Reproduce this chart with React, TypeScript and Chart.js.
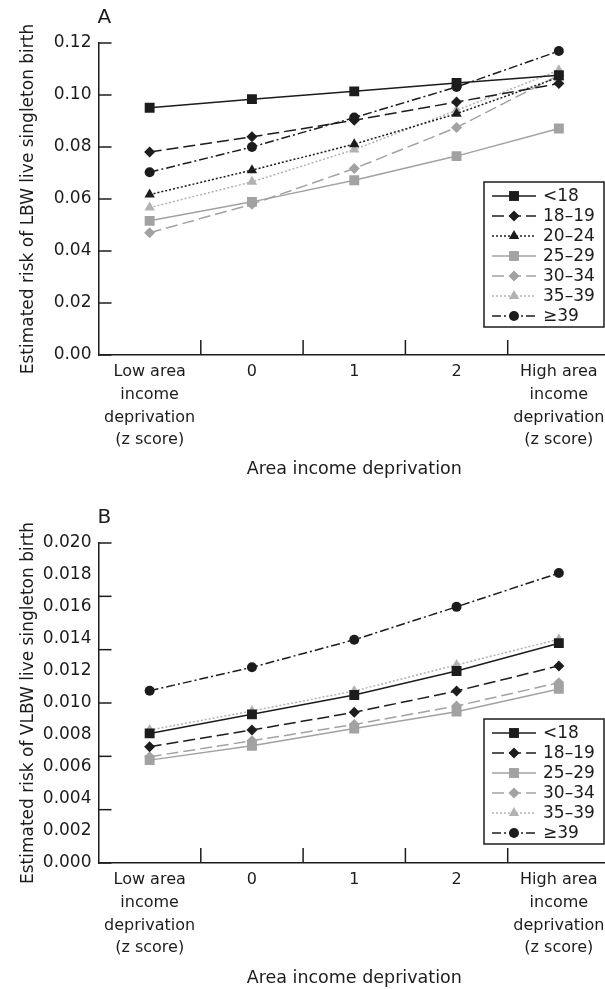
import React, { useEffect, useRef } from 'react';
import { Chart, registerables } from 'chart.js';
import { drawPoint } from 'chart.js/helpers';

Chart.register(...registerables);

// ---------- data ----------
const categories: string[][] = [
  ['Low area', 'income', 'deprivation', '(z score)'],
  ['0'],
  ['1'],
  ['2'],
  ['High area', 'income', 'deprivation', '(z score)'],
];

const ageLabels = ['<18', '18–19', '20–24', '25–29', '30–34', '35–39', '≥39'];

// Panel A: estimated risk of LBW live singleton birth
const lbwUnder18 = [0.0951, 0.0984, 0.1014, 0.1046, 0.1076];
const lbw18to19 = [0.0781, 0.0839, 0.0903, 0.0973, 0.1044];
const lbw20to24 = [0.0617, 0.0711, 0.0811, 0.0928, 0.1068];
const lbw25to29 = [0.0516, 0.0589, 0.0672, 0.0765, 0.0871];
const lbw30to34 = [0.047, 0.058, 0.0717, 0.0875, 0.1076];
const lbw35to39 = [0.0567, 0.0666, 0.079, 0.0941, 0.1095];
const lbwOver39 = [0.0703, 0.08, 0.0913, 0.1031, 0.1169];

// Panel B: estimated risk of VLBW live singleton birth
const vlbwUnder18 = [0.0081, 0.00929, 0.0105, 0.012, 0.01374];
const vlbw18to19 = [0.00727, 0.00831, 0.00942, 0.01075, 0.01232];
const vlbw25to29 = [0.00643, 0.00733, 0.00841, 0.00946, 0.01088];
const vlbw30to34 = [0.00664, 0.00764, 0.00866, 0.00981, 0.01127];
const vlbw35to39 = [0.00831, 0.0095, 0.01075, 0.01238, 0.01399];
const vlbwOver39 = [0.01077, 0.01223, 0.01395, 0.01601, 0.01812];

// ---------- styles ----------
const FONT = "'DejaVu Sans', sans-serif";
const BLACK = '#1c1c1c';
const GRAY = '#a2a2a2';
const LIGHTGRAY = '#b2b2b2';

type Style = { color: string; dash: number[]; point: string; radius: number };
const styles: Record<string, Style> = {
  '<18': { color: BLACK, dash: [], point: 'rect', radius: 7 },
  '18–19': { color: BLACK, dash: [12, 5], point: 'rectRot', radius: 5.5 },
  '20–24': { color: BLACK, dash: [2, 2], point: 'triangle', radius: 6 },
  '25–29': { color: GRAY, dash: [], point: 'rect', radius: 7 },
  '30–34': { color: GRAY, dash: [12, 5], point: 'rectRot', radius: 5.5 },
  '35–39': { color: LIGHTGRAY, dash: [2, 2], point: 'triangle', radius: 6 },
  '≥39': { color: BLACK, dash: [9, 3, 2, 3], point: 'circle', radius: 5 },
};

type PanelDef = {
  letter: string;
  yTitle: string;
  max: number;
  step: number;
  decimals: number;
  series: { label: string; data: number[] }[];
  height: number;
  padTop: number;
  xHeight: number;
  legendTop: number;
};

const panelA: PanelDef = {
  letter: 'A',
  yTitle: 'Estimated risk of LBW live singleton birth',
  max: 0.12,
  step: 0.02,
  decimals: 2,
  series: [
    { label: ageLabels[0], data: lbwUnder18 },
    { label: ageLabels[1], data: lbw18to19 },
    { label: ageLabels[2], data: lbw20to24 },
    { label: ageLabels[3], data: lbw25to29 },
    { label: ageLabels[4], data: lbw30to34 },
    { label: ageLabels[5], data: lbw35to39 },
    { label: ageLabels[6], data: lbwOver39 },
  ],
  height: 480,
  padTop: 43,
  xHeight: 125,
  legendTop: 139,
};

const panelB: PanelDef = {
  letter: 'B',
  yTitle: 'Estimated risk of VLBW live singleton birth',
  max: 0.02,
  step: 0.002,
  decimals: 3,
  series: [
    { label: ageLabels[0], data: vlbwUnder18 },
    { label: ageLabels[1], data: vlbw18to19 },
    { label: ageLabels[3], data: vlbw25to29 },
    { label: ageLabels[4], data: vlbw30to34 },
    { label: ageLabels[5], data: vlbw35to39 },
    { label: ageLabels[6], data: vlbwOver39 },
  ],
  height: 509,
  padTop: 63,
  xHeight: 126,
  legendTop: 176,
};

const CANVAS_W = 620;

// ---------- plugins ----------
const innerMarks = {
  id: 'innerMarks',
  afterDraw(chart: any) {
    const { ctx, chartArea } = chart;
    const ys = chart.scales.y;
    const xs = chart.scales.x;
    ctx.save();
    ctx.strokeStyle = BLACK;
    ctx.lineWidth = 1.5;
    ctx.setLineDash([]);
    const divisions = 6;
    for (let i = 0; i <= divisions; i++) {
      const v = ys.min + (i * (ys.max - ys.min)) / divisions;
      const y = ys.getPixelForValue(v);
      ctx.beginPath();
      ctx.moveTo(chartArea.left, y);
      ctx.lineTo(chartArea.left + 13, y);
      ctx.stroke();
    }
    const n = chart.data.labels.length;
    for (let i = 1; i < n; i++) {
      const x = (xs.getPixelForTick(i - 1) + xs.getPixelForTick(i)) / 2;
      ctx.beginPath();
      ctx.moveTo(x, chartArea.bottom);
      ctx.lineTo(x, chartArea.bottom - 15);
      ctx.stroke();
    }
    ctx.restore();
  },
};

const boxLegend = {
  id: 'boxLegend',
  afterDraw(chart: any, _args: any, opts: any) {
    const { ctx, chartArea } = chart;
    const sets = chart.data.datasets;
    const left = chartArea.right - 126;
    const top = chartArea.top + opts.top;
    const rowH = 20;
    const h = 14 + (sets.length - 1) * rowH + 11;
    ctx.save();
    ctx.fillStyle = '#fff';
    ctx.fillRect(left, top, 120, h);
    ctx.strokeStyle = BLACK;
    ctx.lineWidth = 1.5;
    ctx.setLineDash([]);
    ctx.strokeRect(left, top, 120, h);
    sets.forEach((ds: any, i: number) => {
      const st = styles[ds.label];
      const y = top + 14 + i * rowH;
      ctx.strokeStyle = st.color;
      ctx.fillStyle = st.color;
      ctx.lineWidth = 1.5;
      ctx.setLineDash(st.dash);
      ctx.beginPath();
      ctx.moveTo(left + 8, y);
      ctx.lineTo(left + 52, y);
      ctx.stroke();
      ctx.setLineDash([]);
      drawPoint(ctx, { pointStyle: st.point, radius: st.radius, rotation: 0, borderWidth: 0 } as any, left + 30, y);
      ctx.fillStyle = BLACK;
      ctx.font = `17px ${FONT}`;
      ctx.textAlign = 'left';
      ctx.textBaseline = 'middle';
      ctx.fillText(ds.label, left + 59, y + 1);
    });
    ctx.restore();
  },
};

const panelLetter = {
  id: 'panelLetter',
  afterDraw(chart: any, _args: any, opts: any) {
    const { ctx, chartArea } = chart;
    ctx.save();
    ctx.fillStyle = BLACK;
    ctx.font = `20px ${FONT}`;
    ctx.textAlign = 'left';
    ctx.textBaseline = 'middle';
    ctx.fillText(opts.text, chartArea.left - 1, chartArea.top - 25);
    ctx.restore();
  },
};

function buildConfig(p: PanelDef): any {
  return {
    type: 'line',
    data: {
      labels: categories,
      datasets: p.series.map((s) => {
        const st = styles[s.label];
        return {
          label: s.label,
          data: s.data,
          borderColor: st.color,
          backgroundColor: st.color,
          borderWidth: 1.5,
          borderDash: st.dash,
          pointStyle: st.point,
          pointRadius: st.radius,
          pointBorderWidth: 0,
          tension: 0,
          fill: false,
        };
      }),
    },
    options: {
      responsive: false,
      animation: false,
      devicePixelRatio: 1,
      layout: { padding: { top: p.padTop, left: 0, right: CANVAS_W - 610, bottom: 0 } },
      plugins: {
        legend: { display: false },
        tooltip: { enabled: false },
        boxLegend: { top: p.legendTop },
        panelLetter: { text: p.letter },
      },
      scales: {
        x: {
          type: 'category',
          offset: true,
          grid: { display: false, offset: true, drawTicks: false },
          border: { display: true, color: BLACK, width: 1.5 },
          ticks: {
            color: BLACK,
            font: { family: FONT, size: 16, lineHeight: 1.41 },
            padding: 6,
            maxRotation: 0,
            autoSkip: false,
          },
          title: {
            display: true,
            text: 'Area income deprivation',
            color: BLACK,
            font: { family: FONT, size: 17.5 },
            padding: { top: 4, bottom: 0 },
          },
          afterFit: (s: any) => {
            s.height = p.xHeight;
          },
        },
        y: {
          min: 0,
          max: p.max,
          grid: { display: false, drawTicks: false },
          border: { display: true, color: BLACK, width: 1.5 },
          ticks: {
            stepSize: p.step,
            color: BLACK,
            font: { family: FONT, size: 17 },
            padding: 7,
            callback: (v: number) => Number(v).toFixed(p.decimals),
          },
          title: {
            display: true,
            text: p.yTitle,
            color: BLACK,
            font: { family: FONT, size: 17 },
            padding: { top: 18, bottom: 0 },
          },
          afterFit: (s: any) => {
            s.width = 98.5;
          },
        },
      },
    },
    plugins: [innerMarks, boxLegend, panelLetter],
  };
}

function Panel({ def, top }: { def: PanelDef; top: number }) {
  const ref = useRef<HTMLCanvasElement>(null);
  useEffect(() => {
    const chart = new Chart(ref.current as HTMLCanvasElement, buildConfig(def));
    return () => chart.destroy();
  }, [def]);
  return (
    <canvas
      ref={ref}
      width={CANVAS_W}
      height={def.height}
      style={{ position: 'absolute', left: 0, top, width: CANVAS_W, height: def.height }}
    />
  );
}

export default function App() {
  return (
    <div
      style={{
        position: 'fixed',
        left: 0,
        top: 0,
        width: 605,
        height: 989,
        overflow: 'hidden',
        background: '#fff',
      }}
    >
      <Panel def={panelA} top={0} />
      <Panel def={panelB} top={480} />
    </div>
  );
}
